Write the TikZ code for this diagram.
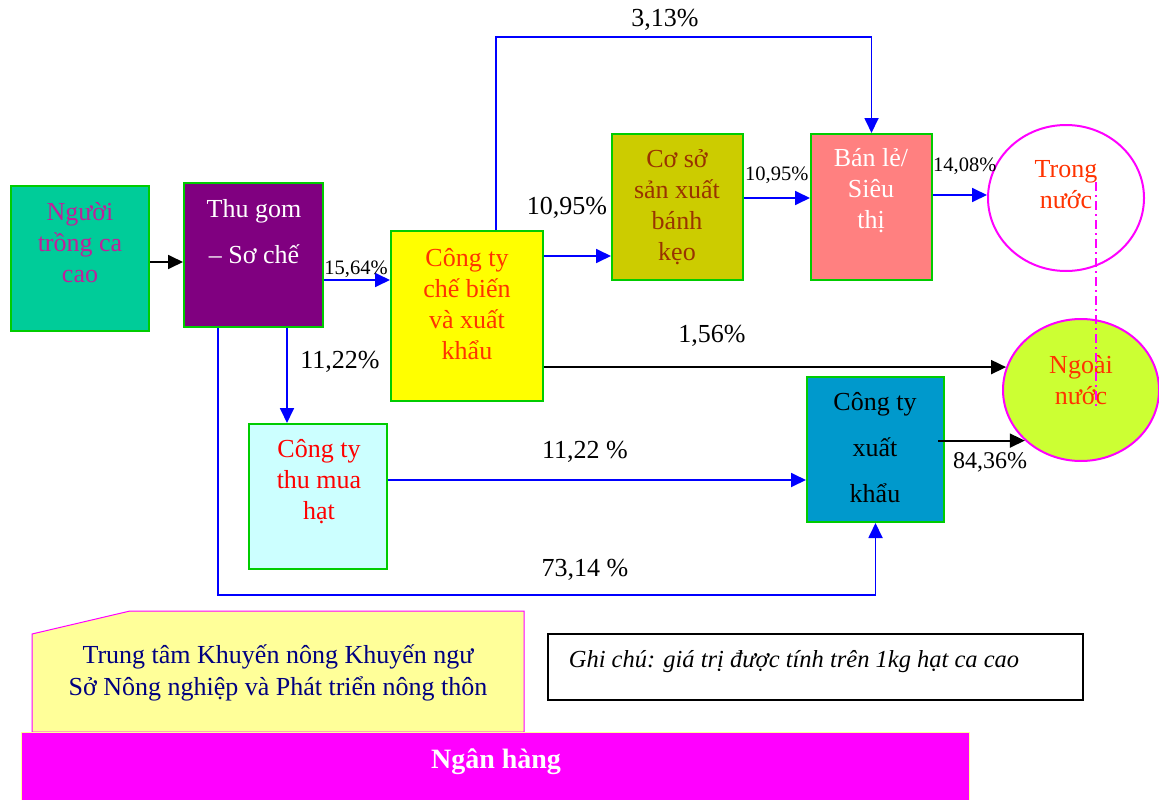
\documentclass[tikz,border=0pt]{standalone}
\usepackage{fontspec}
\setmainfont{Liberation Serif}
\usetikzlibrary{arrows.meta,shapes.geometric}
\definecolor{bgreen}{HTML}{00CC00}
\definecolor{cteal}{HTML}{00CC99}
\definecolor{cpurple}{HTML}{800080}
\definecolor{cyel}{HTML}{FFFF00}
\definecolor{colive}{HTML}{CCCC00}
\definecolor{csalmon}{HTML}{FF8080}
\definecolor{ccyan}{HTML}{CCFFFF}
\definecolor{cblue}{HTML}{0099CC}
\definecolor{clime}{HTML}{CCFF33}
\definecolor{cpale}{HTML}{FFFF99}
\definecolor{cmag}{HTML}{FF00FF}
\definecolor{torange}{HTML}{FF3300}
\definecolor{tbrown}{HTML}{993300}
\definecolor{tmag}{HTML}{C0209A}
\definecolor{tnavy}{HTML}{000080}
\definecolor{ablue}{HTML}{0000FF}
\tikzset{
  box/.style={draw=bgreen,line width=2pt,inner sep=0pt},
  oval/.style={ellipse,draw=cmag,line width=2pt,inner sep=0pt},
  txt/.style={align=center,inner sep=0pt,font=\fontsize{26}{31}\selectfont},
  lbl/.style={inner sep=0pt,font=\fontsize{26}{30}\selectfont},
  slbl/.style={inner sep=0pt,font=\fontsize{20.5}{24}\selectfont},
  barrow/.style={draw=ablue,line width=1.8pt,-{Triangle[length=15pt,width=14pt]}},
  karrow/.style={draw=black,line width=1.8pt,-{Triangle[length=15pt,width=14pt]}}
}
\begin{document}
\begin{tikzpicture}[x=1pt,y=-1pt]
\useasboundingbox (0,0) rectangle (1159,800);
% boxes
\node[box,fill=cteal,minimum width=138pt,minimum height=145pt] (ng) at (80,258.5) {};
\node[txt,text=tmag] (ngt) at (80,243) {Người\\trồng ca\\cao};
\node[box,fill=cpurple,minimum width=139pt,minimum height=144pt] (tg) at (253.5,255) {};
\node[txt,text=white,font=\fontsize{26}{46}\selectfont] (tgt) at (254,232) {Thu gom\\– Sơ chế};
\node[box,fill=cyel,minimum width=152pt,minimum height=170pt] (cb) at (467,316) {};
\node[txt,text=torange] (cbt) at (467,304) {Công ty\\chế biến\\và xuất\\khẩu};
\node[box,fill=colive,minimum width=131pt,minimum height=146pt] (cs) at (677.5,207) {};
\node[txt,text=tbrown] (cst) at (677,207) {Cơ sở\\sản xuất\\bánh\\kẹo};
\node[slbl,anchor=west] (l7) at (745,175) {10,95\%};
\node[box,fill=csalmon,minimum width=121pt,minimum height=146pt] (bl) at (871.5,207) {};
\node[txt,text=white] (blt) at (871,191) {Bán lẻ/\\Siêu\\thị};
\node[oval,fill=white,minimum width=156pt,minimum height=146pt] (tn) at (1066,198) {};
\node[txt,text=torange] (tnt) at (1066,185) {Trong\\nước};
\node[oval,fill=clime,minimum width=156pt,minimum height=142pt] (nn) at (1081,390) {};
\node[txt,text=torange] (nnt) at (1081,380) {Ngoài\\nước};
\node[box,fill=ccyan,minimum width=138pt,minimum height=145pt] (tm) at (318,496.5) {};
\node[txt,text=red] (tmt) at (319,482) {Công ty\\thu mua\\hạt};
\node[box,fill=cblue,minimum width=137pt,minimum height=145pt] (xk) at (875.5,449.5) {};
\node[txt,text=black,font=\fontsize{26}{46}\selectfont] (xkt) at (875,448) {Công ty\\xuất\\khẩu};
% connectors
\draw[karrow] (ng.east |- 0,262) -- (tg.west |- 0,262);
\draw[barrow] (tg.east |- 0,280) -- (cb.west |- 0,280);
\draw[barrow] ([xshift=33.5pt]tg.south) -- ([xshift=33.5pt]tg.south |- tm.north);
\draw[barrow] ([xshift=-35.5pt]tg.south) -- ++(0,267) -| (xk.south);
\draw[barrow] ([xshift=29pt]cb.north) -- ++(0,-193) -| (bl.north);
\draw[barrow] (cb.east |- 0,256) -- (cs.west |- 0,256);
\draw[barrow] (cs.east |- 0,198) -- (bl.west |- 0,198);
\draw[barrow] (bl.east |- 0,195) -- (tn.west |- 0,195);
\draw[karrow] (cb.east |- nn.163) -- (nn.163);
\draw[barrow] (tm.east |- 0,480) -- (xk.west |- 0,480);
\draw[karrow] ([xshift=-7pt]xk.east |- nn.222) -- (nn.222);
% labels
\node[slbl] (l1) at (356,269) {15,64\%};
\node[lbl] (l2) at (340,362) {11,22\%};
\node[lbl] (l3) at (567,208) {10,95\%};
\node[slbl,anchor=west] (l4) at (933,166) {14,08\%};
\node[lbl] (l5) at (665,20) {3,13\%};
\node[lbl] (l6) at (712,336) {1,56\%};
\node[lbl] (l8) at (585,452) {11,22 \%};
\node[lbl] (l9) at (585,570) {73,14 \%};
\node[lbl,font=\fontsize{24}{28}\selectfont] (l10) at (990,462) {84,36\%};
% dash-dot
\draw[cmag,line width=1.5pt,dash pattern=on 9pt off 4pt on 2pt off 4pt] ([xshift=30pt,yshift=16pt]tn.center) -- ([xshift=15pt,yshift=-19pt]nn.center);
% bottom
\draw[draw=cmag,line width=1pt,fill=cpale] (32,634) -- (130,611) -- (524,611) -- (524,732) -- (32,732) -- cycle;
\node[txt,text=tnavy,font=\fontsize{26}{32}\selectfont] (tt) at (278,673) {Trung tâm Khuyến nông Khuyến ngư\\Sở Nông nghiệp và Phát triển nông thôn};
\node[draw=cpale,line width=1pt,fill=cmag,minimum width=948pt,minimum height=72pt,inner sep=0pt] (nh) at (495,768) {};
\node[inner sep=0pt,text=white,font=\fontsize{28}{30}\selectfont\bfseries] (nht) at (496,762) {Ngân hàng};
\node[draw=black,line width=1.5pt,minimum width=535pt,minimum height=66pt,inner sep=0pt] (gc) at (815.5,667) {};
\node[inner sep=0pt,font=\fontsize{24.5}{28}\selectfont\itshape] (gct) at (794,662) {Ghi chú: giá trị được tính trên 1kg hạt ca cao};
\end{tikzpicture}
\end{document}
